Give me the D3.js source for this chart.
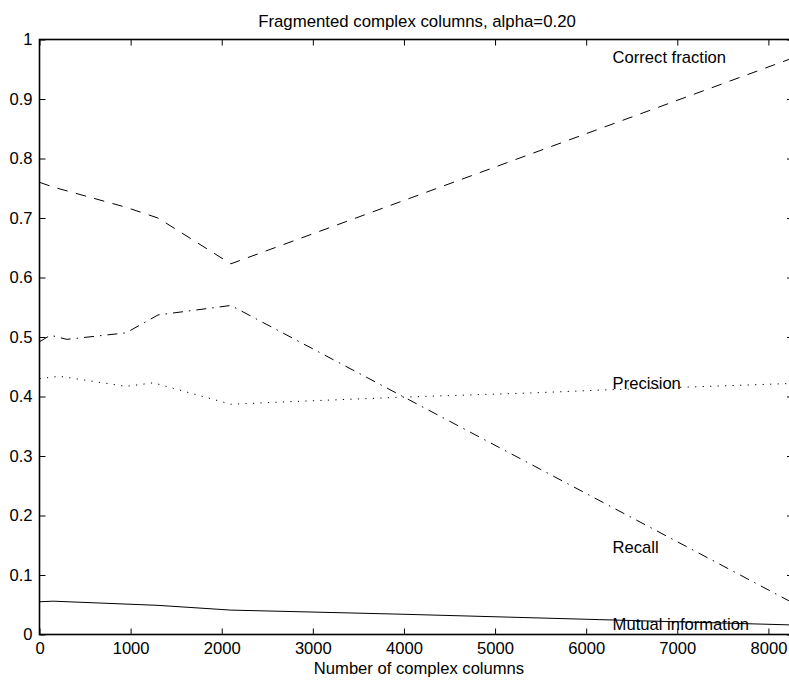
<!DOCTYPE html>
<html>
<head>
<meta charset="utf-8">
<script src="https://cdn.jsdelivr.net/npm/d3@7"></script>
<style>
  html, body { margin: 0; padding: 0; background: #fff; }
  svg { display: block; }
  text { font-family: "Liberation Sans", Arial, Helvetica, sans-serif; fill: #000; }
</style>
</head>
<body>
<svg id="chart" width="789" height="680"></svg>
<script>
// Number of complex columns (x) and measured quantities for each curve
const correctX = [0, 150, 950, 1300, 2100, 8270];
const correctY = [0.760, 0.752, 0.718, 0.700, 0.623, 0.969];

const recallX = [0, 120, 300, 950, 1300, 2100, 8270];
const recallY = [0.492, 0.503, 0.496, 0.507, 0.537, 0.553, 0.053];

const precisionX = [0, 220, 950, 1250, 2100, 2700, 4000, 5400, 6200, 8270];
const precisionY = [0.430, 0.434, 0.417, 0.423, 0.387, 0.391, 0.399, 0.406, 0.411, 0.422];

const mutualX = [0, 150, 1300, 2100, 3200, 4000, 6150, 8270];
const mutualY = [0.055, 0.056, 0.049, 0.041, 0.037, 0.034, 0.025, 0.016];

const xTicks = [0, 1000, 2000, 3000, 4000, 5000, 6000, 7000, 8000];
const yTicks = [0, 0.1, 0.2, 0.3, 0.4, 0.5, 0.6, 0.7, 0.8, 0.9, 1];

const curveLabels = ["Correct fraction", "Precision", "Recall", "Mutual information"];
const labelY = [0.97, 0.422, 0.147, 0.016];
const labelX = 6290;

const titleText = "Fragmented complex columns, alpha=0.20";
const xLabelText = "Number of complex columns";

const svg = d3.select("#chart");
const axLeft = 39.5, axRight = 793, axTop = 39.5, axBottom = 634.5;
const fontSize = 16.6;

const x = d3.scaleLinear().domain([0, 8270]).range([axLeft, axRight]);
const y = d3.scaleLinear().domain([0, 1]).range([axBottom, axTop]);

const line = d3.line().x(d => x(d[0])).y(d => y(d[1]));
const zipXY = (xs, ys) => xs.map((v, i) => [v, ys[i]]);

const series = [
  { pts: zipXY(correctX, correctY), dash: "10.5 8.5" },
  { pts: zipXY(recallX, recallY), dash: "10 6 1.5 6" },
  { pts: zipXY(precisionX, precisionY), dash: "1.2 6.3" },
  { pts: zipXY(mutualX, mutualY), dash: null }
];

const plot = svg.append("g");
series.forEach(s => {
  plot.append("path")
    .attr("d", line(s.pts))
    .attr("fill", "none")
    .attr("stroke", "#000")
    .attr("stroke-width", 1)
    .attr("stroke-dasharray", s.dash);
});

// Curve labels placed in data coordinates
curveLabels.forEach((t, i) => {
  svg.append("text")
    .attr("x", x(labelX))
    .attr("y", y(labelY[i]))
    .attr("dy", "0.33em")
    .attr("font-size", fontSize)
    .text(t);
});

// Axes: bottom/left with labels, top/right with inward ticks only
const tickLen = 6;
const xAxisB = d3.axisBottom(x).tickValues(xTicks).tickSize(-tickLen).tickPadding(8).tickFormat(d3.format("d"));
const xAxisT = d3.axisTop(x).tickValues(xTicks).tickSize(-tickLen).tickFormat("");
const yAxisL = d3.axisLeft(y).tickValues(yTicks).tickSize(-tickLen).tickPadding(7).tickFormat(d => String(+d.toFixed(1)));
const yAxisR = d3.axisRight(y).tickValues(yTicks).tickSize(-tickLen).tickFormat("");

function styleAxis(g) {
  g.select(".domain").remove();
  g.selectAll(".tick line").attr("stroke", "#000").attr("stroke-width", 1);
  g.selectAll(".tick text").attr("font-size", fontSize).attr("fill", "#000")
    .style("font-family", "'Liberation Sans', Arial, sans-serif");
}

svg.append("g").attr("transform", `translate(0,${axBottom})`).call(xAxisB).call(styleAxis);
svg.append("g").attr("transform", `translate(0,${axTop})`).call(xAxisT).call(styleAxis);
svg.append("g").attr("transform", `translate(${axLeft},0)`).call(yAxisL).call(styleAxis);
svg.append("g").attr("transform", `translate(${axRight},0)`).call(yAxisR).call(styleAxis);

// Axes box
svg.append("rect")
  .attr("x", axLeft).attr("y", axTop)
  .attr("width", axRight - axLeft).attr("height", axBottom - axTop)
  .attr("fill", "none").attr("stroke", "#000").attr("stroke-width", 1.6);

// Title and x label
svg.append("text")
  .attr("x", 417).attr("y", 27)
  .attr("text-anchor", "middle").attr("font-size", 16.8)
  .text(titleText);

svg.append("text")
  .attr("x", 419).attr("y", 674)
  .attr("text-anchor", "middle").attr("font-size", fontSize)
  .text(xLabelText);
</script>
</body>
</html>
